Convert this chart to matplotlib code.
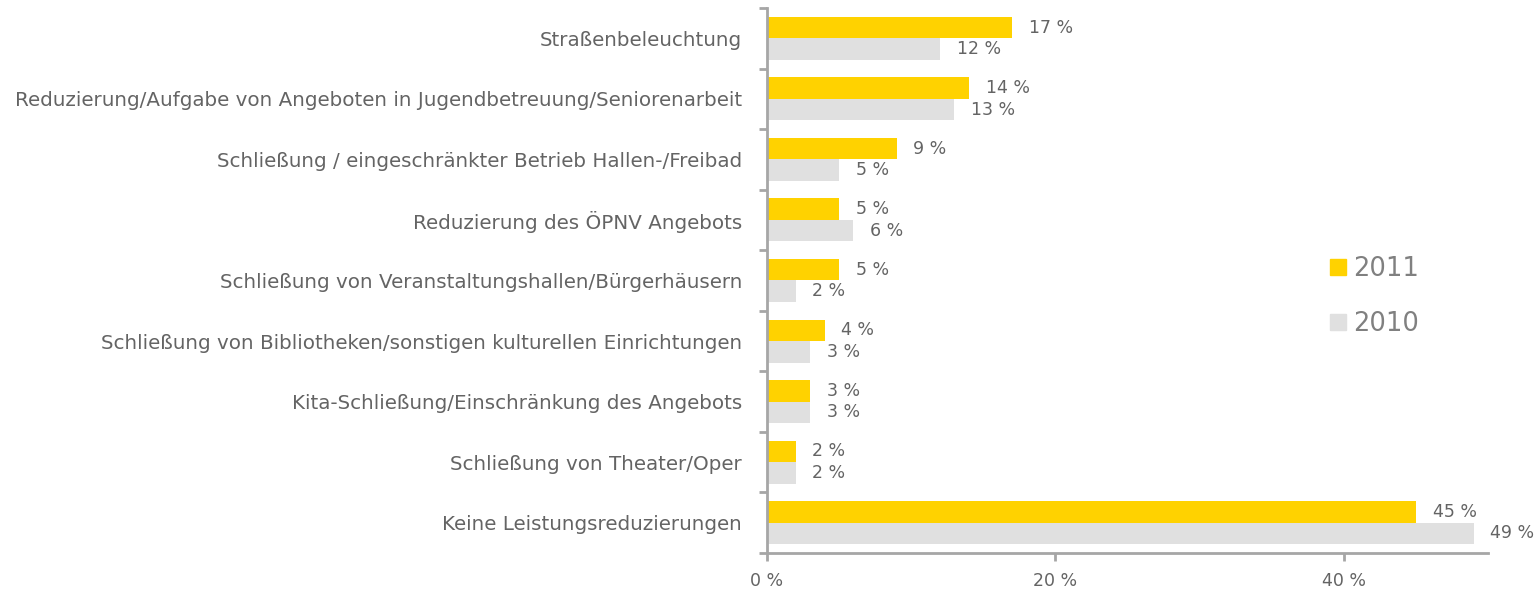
import matplotlib.pyplot as plt
from matplotlib.patches import Patch
import numpy as np

# data
categories = [
    "Straßenbeleuchtung",
    "Reduzierung/Aufgabe von Angeboten in Jugendbetreuung/Seniorenarbeit",
    "Schließung / eingeschränkter Betrieb Hallen-/Freibad",
    "Reduzierung des ÖPNV Angebots",
    "Schließung von Veranstaltungshallen/Bürgerhäusern",
    "Schließung von Bibliotheken/sonstigen kulturellen Einrichtungen",
    "Kita-Schließung/Einschränkung des Angebots",
    "Schließung von Theater/Oper",
    "Keine Leistungsreduzierungen",
]
values_2011 = [17, 14, 9, 5, 5, 4, 3, 2, 45]
values_2010 = [12, 13, 5, 6, 2, 3, 3, 2, 49]
x_ticks = [0, 20, 40]
x_tick_labels = ["0 %", "20 %", "40 %"]

yellow = "#FFD200"
grey = "#E0E0E0"
text_col = "#646464"
axis_col = "#A6A6A6"

plt.rcParams['font.family'] = ['DejaVu Sans']

fig = plt.figure(figsize=(15.36, 5.93), dpi=100)
ax = fig.add_axes([0.4993, 0.0675, 0.4695, 0.919])

y = np.arange(len(categories))
h = 0.355
ax.barh(y - h / 2, values_2011, height=h, color=yellow, label="2011")
ax.barh(y + h / 2, values_2010, height=h, color=grey, label="2010")

for i in range(len(categories)):
    ax.annotate(f"{values_2011[i]} %", (values_2011[i], y[i] - h / 2), xytext=(12, 0),
                textcoords="offset points", va="center", ha="left", fontsize=12.5, color=text_col)
    ax.annotate(f"{values_2010[i]} %", (values_2010[i], y[i] + h / 2), xytext=(12, 0),
                textcoords="offset points", va="center", ha="left", fontsize=12.5, color=text_col)

ax.set_xlim(0, 50)
ax.set_ylim(len(categories) - 0.5, -0.5)

ax.set_yticks(y)
ax.set_yticklabels(categories, fontsize=14.3, color=text_col)
ax.tick_params(axis='y', which='major', length=0, pad=18)
ax.set_yticks(np.arange(len(categories) + 1) - 0.5, minor=True)
ax.tick_params(axis='y', which='minor', length=6, width=2, color=axis_col)

ax.set_xticks(x_ticks)
ax.set_xticklabels(x_tick_labels, fontsize=12.5, color=text_col)
ax.tick_params(axis='x', length=6, width=2, color=axis_col, pad=8)

for s in ['top', 'right']:
    ax.spines[s].set_visible(False)
for s in ['left', 'bottom']:
    ax.spines[s].set_color(axis_col)
    ax.spines[s].set_linewidth(2)

handles = [Patch(color=yellow, label="2011"), Patch(color=grey, label="2010")]
fig.legend(handles=handles, loc='center left', bbox_to_anchor=(0.851, 0.5), frameon=False,
           fontsize=18.5, labelcolor="#808080", handlelength=0.6, handleheight=0.6,
           handletextpad=0.3, labelspacing=1.15)

plt.savefig('out.png', dpi=100)
plt.close()
